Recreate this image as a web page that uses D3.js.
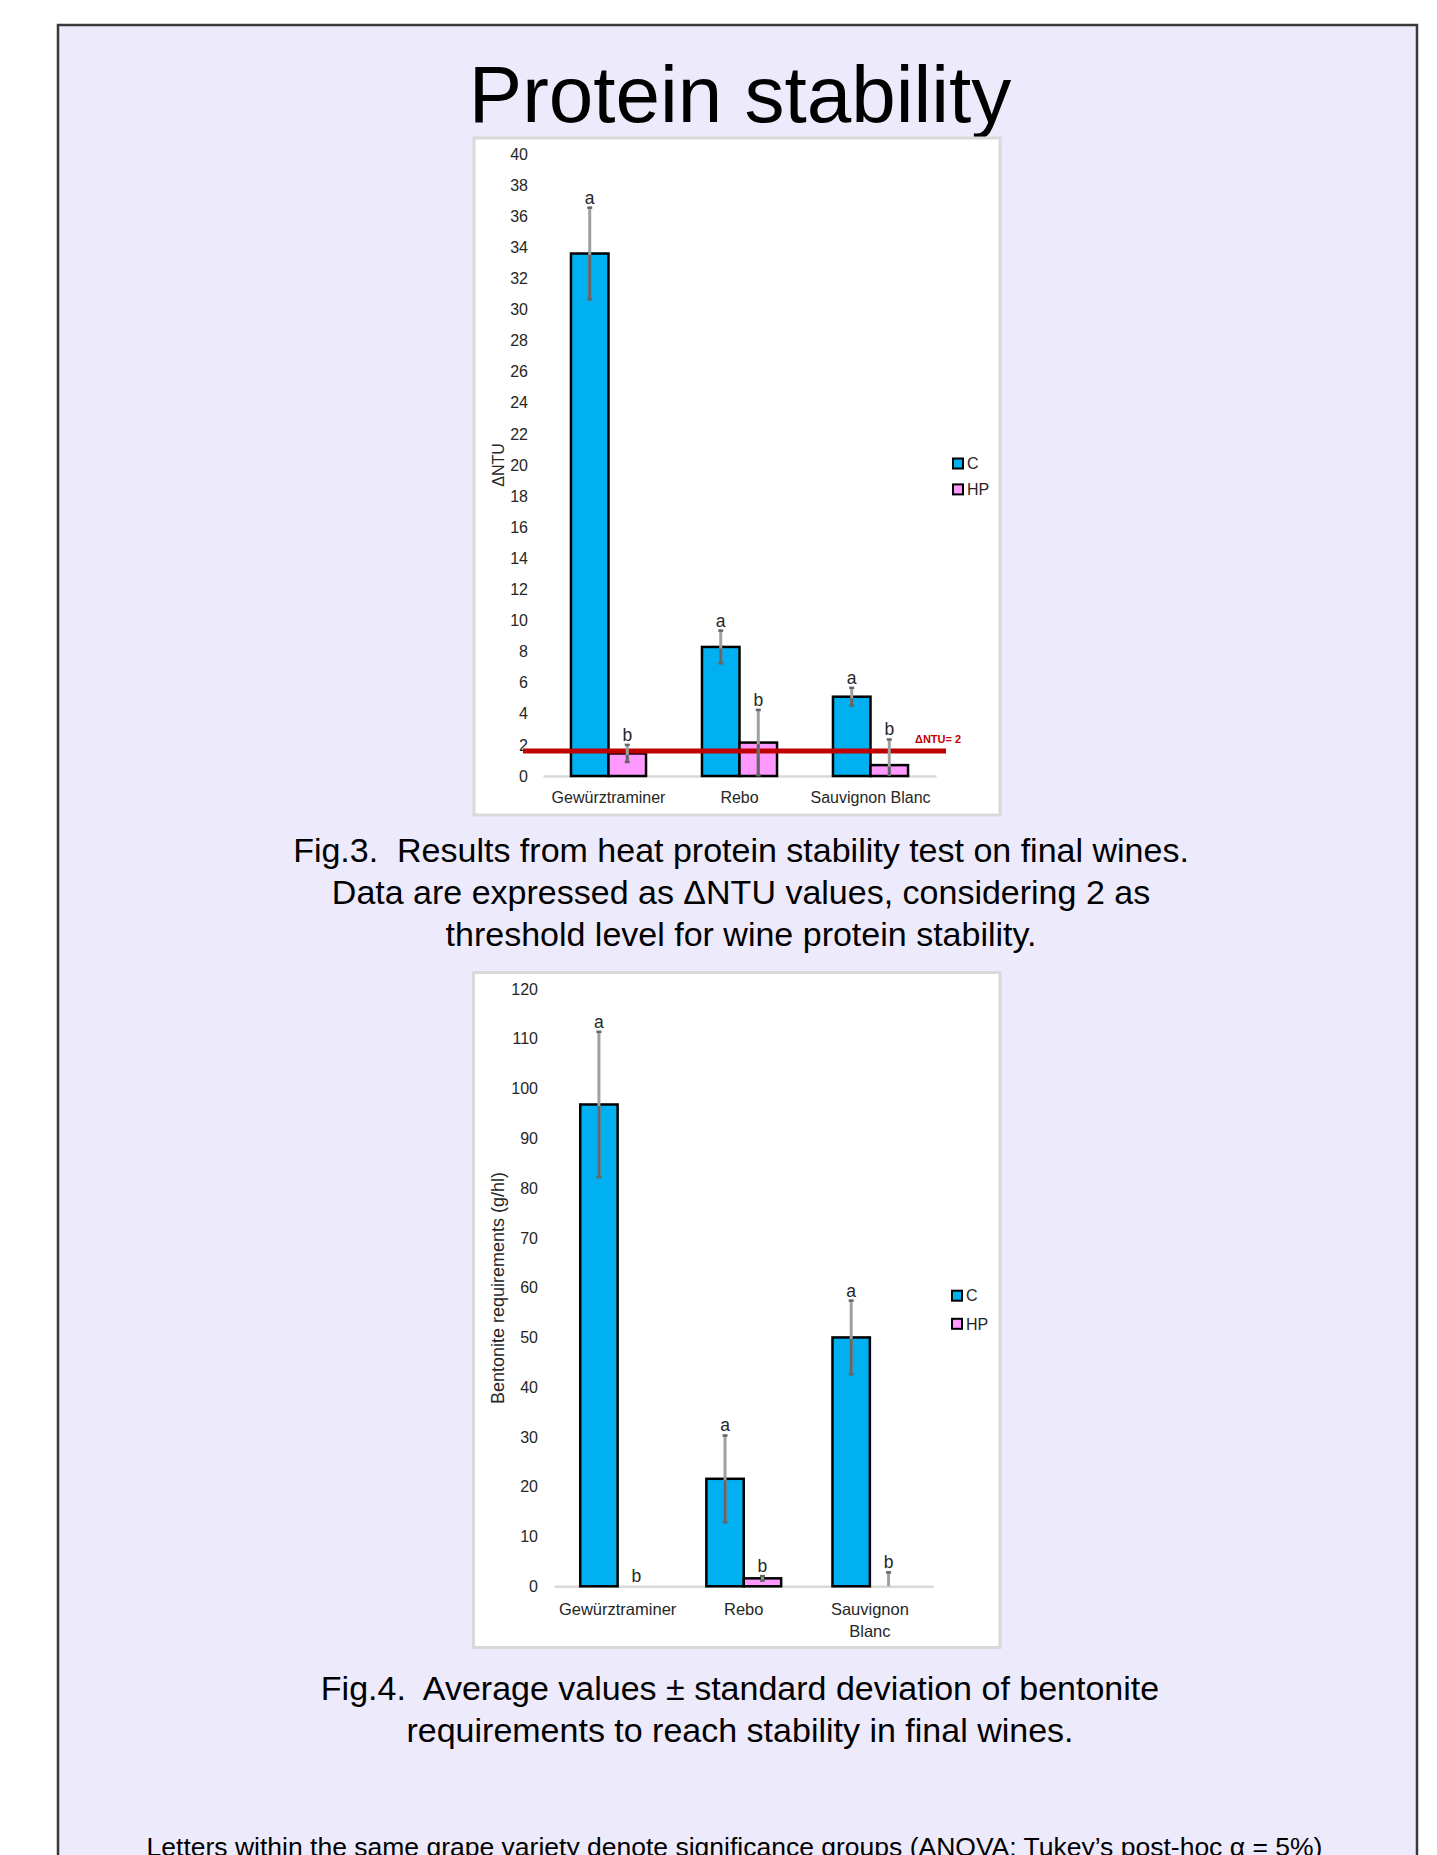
<!DOCTYPE html>
<html><head><meta charset="utf-8">
<script src="https://cdn.jsdelivr.net/npm/d3@7"></script>
<style>
html,body{margin:0;padding:0;background:#fff;}
svg{display:block;}
text{font-family:"Liberation Sans",Arial,Helvetica,sans-serif;}
</style></head><body>
<svg id="c" width="1437" height="1855"></svg>
<script>
// ---------- data ----------
const categories = ["Gewürztraminer", "Rebo", "Sauvignon Blanc"];
const series = ["C", "HP"];
const seriesColors = ["#00B0F0", "#FF99FF"];

// Fig.3 – ΔNTU
const ntuC = [33.6, 8.3, 5.1];
const ntuCsd = [2.95, 1.05, 0.57];
const ntuHP = [1.45, 2.15, 0.7];
const ntuHPsd = [0.55, 2.1, 1.65];
const ntuCLetters = ["a", "a", "a"];
const ntuHPLetters = ["b", "b", "b"];
const ntuTicks = [0, 2, 4, 6, 8, 10, 12, 14, 16, 18, 20, 22, 24, 26, 28, 30, 32, 34, 36, 38, 40];
const ntuThreshold = 1.6;
const ntuThresholdLabel = "ΔNTU= 2";
const ntuCategoryLines = [["Gewürztraminer"], ["Rebo"], ["Sauvignon Blanc"]];

// Fig.4 – bentonite requirements (g/hl)
const bentC = [96.8, 21.6, 50.0];
const bentCsd = [14.6, 8.7, 7.4];
const bentHP = [0, 1.6, 0];
const bentHPsd = [0, 0.45, 2.8];
const bentCLetters = ["a", "a", "a"];
const bentHPLetters = ["b", "b", "b"];
const bentTicks = [0, 10, 20, 30, 40, 50, 60, 70, 80, 90, 100, 110, 120];
const bentCategoryLines = [["Gewürztraminer"], ["Rebo"], ["Sauvignon", "Blanc"]];

const titleText = "Protein stability";
const fig3Caption = ["Fig.3.  Results from heat protein stability test on final wines.",
  "Data are expressed as ΔNTU values, considering 2 as",
  "threshold level for wine protein stability."];
const fig4Caption = ["Fig.4.  Average values ± standard deviation of bentonite",
  "requirements to reach stability in final wines."];
const footerText = "Letters within the same grape variety denote significance groups (ANOVA; Tukey’s post-hoc α = 5%)";

// ---------- drawing ----------
const svg = d3.select("#c");
svg.append("rect").attr("x", 58).attr("y", 25).attr("width", 1359).attr("height", 1900)
  .attr("fill", "#EDEAFC").attr("stroke", "#3a3a3a").attr("stroke-width", 2.5);

svg.append("text").attr("x", 740).attr("y", 122).attr("text-anchor", "middle")
  .attr("font-size", 80).attr("fill", "#000").text(titleText);

function drawChart(o) {
  const g = svg.append("g");
  g.append("rect").attr("x", o.panel[0]).attr("y", o.panel[1]).attr("width", o.panel[2]).attr("height", o.panel[3])
    .attr("fill", "#fff").attr("stroke", "#d9d9d9").attr("stroke-width", 3);

  const x = d3.scaleBand().domain(categories).range(o.xRange).paddingInner(o.padIn).paddingOuter(o.padOut);
  const xs = d3.scaleBand().domain(series).range([0, x.bandwidth()]);
  const y = d3.scaleLinear().domain(o.domain).range(o.yRange);

  const ya = g.append("g").attr("transform", `translate(${o.tickX},0)`)
    .call(d3.axisLeft(y).tickValues(o.ticks).tickSize(0).tickPadding(0).tickFormat(d3.format("d")));
  ya.select(".domain").remove();
  ya.attr("font-size", 16);
  ya.selectAll("text").attr("fill", "#262626");

  const xa = g.append("g").attr("transform", `translate(0,${y(0)})`)
    .call(d3.axisBottom(x).tickSize(0).tickSizeOuter(0).tickPadding(o.labelPad));
  xa.select(".domain").attr("stroke", "#d9d9d9").attr("stroke-width", 2.5);
  xa.attr("font-size", o.catSize);
  xa.selectAll(".tick text").each(function (d, i) {
    const t = d3.select(this).attr("fill", "#262626").text(null);
    o.catLines[i].forEach((ln, k) => {
      t.append("tspan").attr("x", 0).attr("dy", k === 0 ? "0.71em" : "1.33em").text(ln);
    });
  }).attr("dy", null);

  g.append("text").attr("transform", `translate(${o.yTitle[0]},${o.yTitle[1]}) rotate(-90)`)
    .attr("text-anchor", "middle").attr("dy", "0.35em").attr("font-size", o.yTitleSize)
    .attr("fill", "#262626").text(o.yTitleText);

  const rows = [];
  categories.forEach((c, i) => series.forEach((s, j) => rows.push({
    c, s, j, v: o.means[j][i], sd: o.sds[j][i], letter: o.letters[j][i]
  })));

  g.selectAll("rect.bar").data(rows.filter(d => d.v > 0)).join("rect").attr("class", "bar")
    .attr("x", d => x(d.c) + xs(d.s)).attr("width", xs.bandwidth())
    .attr("y", d => y(d.v)).attr("height", d => y(0) - y(d.v))
    .attr("fill", d => seriesColors[d.j]).attr("stroke", "#000").attr("stroke-width", 2.5);

  if (o.threshold != null) {
    g.append("line").attr("x1", o.thrX[0]).attr("x2", o.thrX[1])
      .attr("y1", y(o.threshold)).attr("y2", y(o.threshold))
      .attr("stroke", "#C00000").attr("stroke-width", 5);
    g.append("text").attr("x", o.thrLabelX).attr("y", y(o.threshold) - 8)
      .attr("font-size", 11).attr("font-weight", "bold").attr("fill", "#C00000").text(o.thrLabel);
  }

  const eb = rows.filter(d => d.sd > 0);
  const cx = d => x(d.c) + xs(d.s) + xs.bandwidth() / 2;
  const lo = d => y(Math.max(0, d.v - d.sd));
  const hi = d => y(d.v + d.sd);
  g.selectAll("line.eb").data(eb).join("line").attr("class", "eb")
    .attr("x1", cx).attr("x2", cx).attr("y1", hi).attr("y2", lo)
    .attr("stroke", "#a0a0a0").attr("stroke-width", 3);
  g.selectAll("line.ebin").data(eb.filter(d => d.v > 0)).join("line").attr("class", "ebin")
    .attr("x1", cx).attr("x2", cx).attr("y1", d => y(d.v) + 1.5).attr("y2", lo)
    .attr("stroke", "#666").attr("stroke-width", 3);
  g.selectAll("line.capT").data(eb).join("line").attr("class", "capT")
    .attr("x1", d => cx(d) - 2.5).attr("x2", d => cx(d) + 2.5).attr("y1", hi).attr("y2", hi)
    .attr("stroke", "#666").attr("stroke-width", 2.5);
  g.selectAll("line.capB").data(eb.filter(d => d.v - d.sd > 0)).join("line").attr("class", "capB")
    .attr("x1", d => cx(d) - 2.5).attr("x2", d => cx(d) + 2.5).attr("y1", lo).attr("y2", lo)
    .attr("stroke", "#666").attr("stroke-width", 2.5);

  g.selectAll("text.let").data(rows).join("text").attr("class", "let")
    .attr("x", cx).attr("y", d => y(d.v + d.sd) - 4).attr("text-anchor", "middle")
    .attr("font-size", 17.5).attr("fill", "#262626").text(d => d.letter);

  series.forEach((s, j) => {
    g.append("rect").attr("x", o.legendX).attr("y", o.legendY[j] - 5).attr("width", 10).attr("height", 10)
      .attr("fill", seriesColors[j]).attr("stroke", "#000").attr("stroke-width", 2);
    g.append("text").attr("x", o.legendX + 14).attr("y", o.legendY[j]).attr("dy", "0.36em")
      .attr("font-size", 16).attr("fill", "#262626").text(s);
  });
}

drawChart({
  panel: [474, 138, 526, 677], xRange: [543, 936], padIn: 0.427, padOut: 0.2135,
  yRange: [776, 154], domain: [0, 40], ticks: ntuTicks, tickX: 528, labelPad: 16,
  catSize: 16, catLines: ntuCategoryLines, yTitle: [498.6, 465], yTitleText: "ΔNTU", yTitleSize: 16,
  means: [ntuC, ntuHP], sds: [ntuCsd, ntuHPsd], letters: [ntuCLetters, ntuHPLetters],
  legendX: 953, legendY: [463.5, 489.4],
  threshold: ntuThreshold, thrX: [523, 946], thrLabel: ntuThresholdLabel, thrLabelX: 915
});

drawChart({
  panel: [473.5, 972.5, 526.5, 675], xRange: [554, 933.5], padIn: 0.407, padOut: 0.208,
  yRange: [1586.3, 989], domain: [0, 120], ticks: bentTicks, tickX: 538, labelPad: 17,
  catSize: 16.5, catLines: bentCategoryLines, yTitle: [498, 1288], yTitleText: "Bentonite requirements (g/hl)", yTitleSize: 18,
  means: [bentC, bentHP], sds: [bentCsd, bentHPsd], letters: [bentCLetters, bentHPLetters],
  legendX: 952, legendY: [1295.7, 1323.8], threshold: null
});

svg.append("g").selectAll("text").data(fig3Caption).join("text")
  .attr("x", 741).attr("y", (d, i) => 862 + i * 42).attr("text-anchor", "middle")
  .attr("font-size", 34).attr("fill", "#000").style("white-space", "pre").text(d => d);

svg.append("g").selectAll("text").data(fig4Caption).join("text")
  .attr("x", 740).attr("y", (d, i) => 1700 + i * 42).attr("text-anchor", "middle")
  .attr("font-size", 34).attr("fill", "#000").style("white-space", "pre").text(d => d);

svg.append("text").attr("x", 734.5).attr("y", 1856).attr("text-anchor", "middle")
  .attr("font-size", 26.5).attr("fill", "#000").text(footerText);
</script>
</body></html>
